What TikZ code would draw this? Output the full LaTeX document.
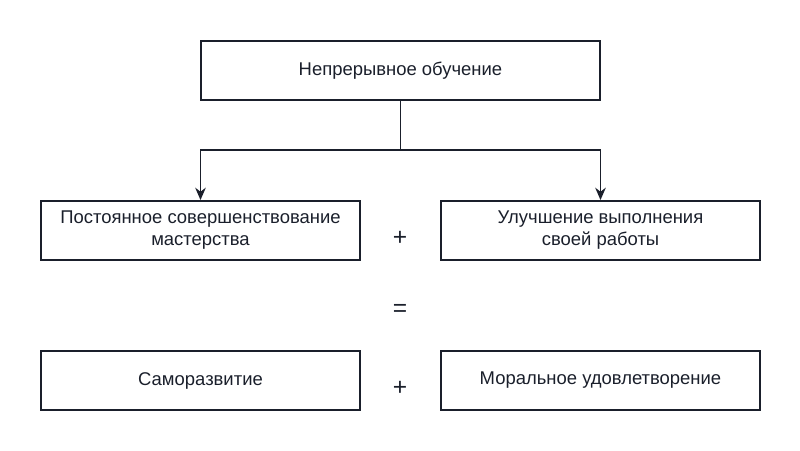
\documentclass[tikz,border=0pt]{standalone}
\usepackage{fontspec}
\setmainfont{Liberation Sans}
\usetikzlibrary{positioning,arrows.meta}
\definecolor{ink}{HTML}{1A1F2B}
\begin{document}
\begin{tikzpicture}[x=0.02cm,y=-0.02cm,
  box/.style={draw=ink, line width=1.1pt, minimum width=6.38cm, minimum height=1.18cm,
    align=center, text=ink, font=\fontsize{10.5}{12.5}\selectfont, inner sep=0pt},
  op/.style={text=ink, font=\fontsize{14}{16}\selectfont},
  link/.style={draw=ink, line width=1.1pt, -{Stealth[length=7pt,width=6pt]}}]
  \useasboundingbox (0,0) rectangle (800,450);

  % Top
  \node[box, minimum width=7.98cm] (learn) at (400.5,70.5) {Непрерывное обучение};

  % Middle row
  \node[box] (skill) at (200.5,230.5) {Постоянное совершенствование\\мастерства};
  \node[box] (work) at (600.5,230.5) {Улучшение выполнения\\своей работы};
  \node[op] (plus1) at (400,238) {+};
  \node[op] (eq) at (400,310) {=};

  % Bottom row
  \node[box] (self) at (200.5,380.5) {Саморазвитие};
  \node[box] (moral) at (600.5,380.5) {Моральное удовлетворение};
  \node[op] (plus2) at (400,388) {+};

  % Connectors
  \coordinate (split) at (learn.south |- 0,150);
  \draw[draw=ink, line width=1.1pt] (learn.south) -- (split);
  \draw[link] (split) -| (skill.north);
  \draw[link] (split) -| (work.north);
\end{tikzpicture}
\end{document}
